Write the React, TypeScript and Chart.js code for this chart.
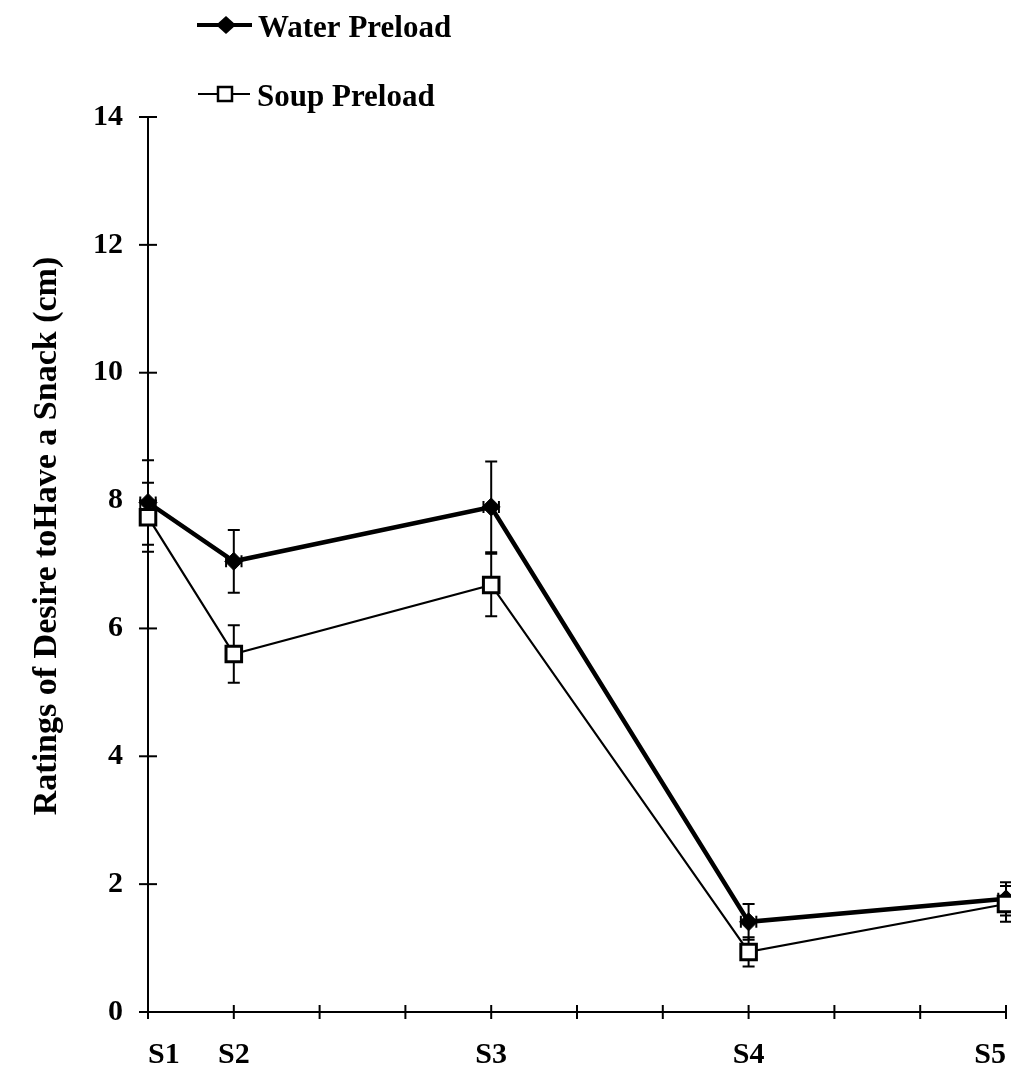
import React, { useEffect, useRef } from 'react';
import { Chart, registerables } from 'chart.js';

Chart.register(...registerables);

const sessionLabels = ['S1', 'S2', 'S3', 'S4', 'S5'];
const sessionTimes = [0, 1, 4, 7, 10];
const waterMeans = [7.97, 7.05, 7.9, 1.41, 1.77];
const waterSE = [0.66, 0.49, 0.71, 0.28, 0.26];
const waterTimeSE = [0.09, 0.09, 0.09, 0.09, 0.09];
const soupMeans = [7.74, 5.6, 6.68, 0.94, 1.69];
const soupSE = [0.54, 0.45, 0.49, 0.23, 0.28];
const seriesNames = ['Water Preload', 'Soup Preload'];
const yTitle = 'Ratings of Desire toHave a Snack (cm)';
const yMin = 0;
const yMax = 14;
const yStep = 2;
const xMin = 0;
const xMax = 10;

const FONT = '"Liberation Serif", "Times New Roman", serif';

const overlayPlugin = {
  id: 'overlay',
  beforeDatasetsDraw(chart: any) {
    const { ctx, scales } = chart;
    const x = scales.x;
    const y = scales.y;
    ctx.save();
    ctx.strokeStyle = '#000';
    ctx.lineCap = 'butt';
    ctx.lineWidth = 2;
    const ax = x.getPixelForValue(xMin);
    const ay = y.getPixelForValue(yMin);
    ctx.beginPath();
    ctx.moveTo(ax, y.getPixelForValue(yMax));
    ctx.lineTo(ax, ay);
    ctx.lineTo(x.getPixelForValue(xMax), ay);
    ctx.stroke();
    for (let v = yMin; v <= yMax; v += yStep) {
      const py = y.getPixelForValue(v);
      ctx.beginPath();
      ctx.moveTo(ax - 9, py);
      ctx.lineTo(ax + 9, py);
      ctx.stroke();
    }
    for (let v = xMin; v <= xMax; v += 1) {
      const px = x.getPixelForValue(v);
      ctx.beginPath();
      ctx.moveTo(px, ay - 7);
      ctx.lineTo(px, ay + 7);
      ctx.stroke();
    }
    ctx.lineWidth = 2;
    const cap = 6;
    const drawV = (means: number[], ses: number[]) => {
      means.forEach((m, i) => {
        const px = x.getPixelForValue(sessionTimes[i]);
        const top = y.getPixelForValue(m + ses[i]);
        const bot = y.getPixelForValue(m - ses[i]);
        ctx.beginPath();
        ctx.moveTo(px, top);
        ctx.lineTo(px, bot);
        ctx.moveTo(px - cap, top);
        ctx.lineTo(px + cap, top);
        ctx.moveTo(px - cap, bot);
        ctx.lineTo(px + cap, bot);
        ctx.stroke();
      });
    };
    drawV(soupMeans, soupSE);
    drawV(waterMeans, waterSE);
    waterMeans.forEach((m, i) => {
      const py = y.getPixelForValue(m);
      const l = x.getPixelForValue(sessionTimes[i] - waterTimeSE[i]);
      const r = x.getPixelForValue(sessionTimes[i] + waterTimeSE[i]);
      ctx.beginPath();
      ctx.moveTo(l, py);
      ctx.lineTo(r, py);
      ctx.moveTo(l, py - cap);
      ctx.lineTo(l, py + cap);
      ctx.moveTo(r, py - cap);
      ctx.lineTo(r, py + cap);
      ctx.stroke();
    });
    ctx.restore();
  },
  afterDraw(chart: any) {
    const { ctx } = chart;
    ctx.save();
    ctx.fillStyle = '#000';
    ctx.strokeStyle = '#000';
    ctx.save();
    ctx.translate(47, 536);
    ctx.rotate(-Math.PI / 2);
    ctx.font = `bold 34px ${FONT}`;
    ctx.textAlign = 'center';
    ctx.textBaseline = 'middle';
    ctx.fillText(yTitle, 0, 0);
    ctx.restore();
    ctx.font = `bold 31px ${FONT}`;
    ctx.textAlign = 'left';
    ctx.textBaseline = 'alphabetic';
    ctx.lineWidth = 4;
    ctx.beginPath();
    ctx.moveTo(197, 25);
    ctx.lineTo(252, 25);
    ctx.stroke();
    ctx.beginPath();
    ctx.moveTo(226, 16);
    ctx.lineTo(236, 25);
    ctx.lineTo(226, 34);
    ctx.lineTo(216, 25);
    ctx.closePath();
    ctx.fill();
    ctx.fillText(seriesNames[0], 258, 37);
    ctx.lineWidth = 2;
    ctx.beginPath();
    ctx.moveTo(198, 94);
    ctx.lineTo(250, 94);
    ctx.stroke();
    ctx.fillStyle = '#fff';
    ctx.fillRect(218, 87, 14, 14);
    ctx.lineWidth = 2.5;
    ctx.strokeRect(218, 87, 14, 14);
    ctx.fillStyle = '#000';
    ctx.fillText(seriesNames[1], 257, 106);
    ctx.restore();
  },
};

export default function App() {
  const ref = useRef<HTMLCanvasElement>(null);
  useEffect(() => {
    if (!ref.current) return;
    const chart = new Chart(ref.current, {
      type: 'line',
      data: {
        datasets: [
          {
            label: seriesNames[1],
            data: sessionTimes.map((t, i) => ({ x: t, y: soupMeans[i] })),
            borderColor: '#000',
            borderWidth: 2.2,
            pointStyle: 'rect',
            pointRadius: 11,
            pointBackgroundColor: '#fff',
            pointBorderColor: '#000',
            pointBorderWidth: 3,
            tension: 0,
            clip: false,
          } as any,
          {
            label: seriesNames[0],
            data: sessionTimes.map((t, i) => ({ x: t, y: waterMeans[i] })),
            borderColor: '#000',
            borderWidth: 4.5,
            pointStyle: 'rectRot',
            pointRadius: 9,
            pointBackgroundColor: '#000',
            pointBorderColor: '#000',
            pointBorderWidth: 1,
            tension: 0,
            clip: false,
          } as any,
        ],
      },
      options: {
        animation: false,
        responsive: false,
        maintainAspectRatio: false,
        devicePixelRatio: 1,
        layout: { autoPadding: false, padding: { top: 117, right: 5, left: 0, bottom: 0 } },
        plugins: {
          legend: { display: false },
          tooltip: { enabled: false },
        },
        scales: {
          x: {
            type: 'linear',
            min: xMin,
            max: xMax,
            grid: { display: false },
            border: { display: false },
            ticks: {
              stepSize: 1,
              autoSkip: false,
              maxRotation: 0,
              align: 'inner',
              padding: 17,
              color: '#000',
              font: { family: FONT, size: 30, weight: 'bold' },
              callback: (v: any) => {
                const i = sessionTimes.indexOf(Number(v));
                return i >= 0 ? sessionLabels[i] : '';
              },
            },
            afterFit: (s: any) => {
              s.height = 66;
              s.paddingLeft = 0;
              s.paddingRight = 0;
              s.paddingTop = 0;
              s.paddingBottom = 0;
            },
          },
          y: {
            min: yMin,
            max: yMax,
            grid: { display: false },
            border: { display: false },
            ticks: {
              stepSize: yStep,
              padding: 17,
              color: '#000',
              font: { family: FONT, size: 30, weight: 'bold' },
            },
            afterFit: (s: any) => {
              s.width = 148;
              s.paddingLeft = 0;
              s.paddingRight = 0;
              s.paddingTop = 0;
              s.paddingBottom = 0;
            },
          },
        },
      } as any,
      plugins: [overlayPlugin],
    });
    return () => chart.destroy();
  }, []);
  return (
    <div style={{ position: 'absolute', left: 0, top: 0, width: 1011, height: 1078, background: '#fff' }}>
      <canvas ref={ref} width={1011} height={1078} style={{ display: 'block' }} />
    </div>
  );
}
